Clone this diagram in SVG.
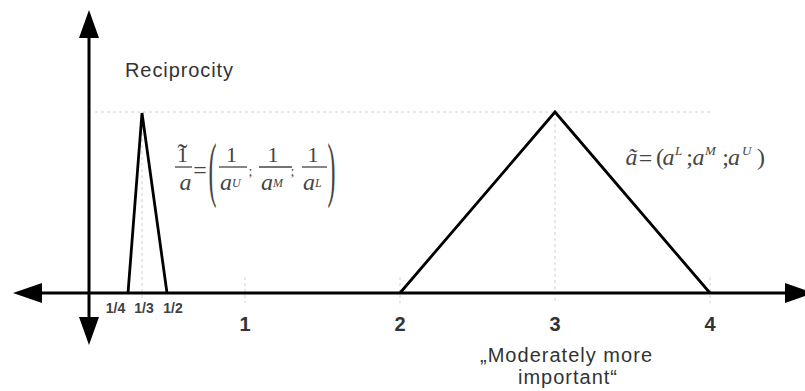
<svg xmlns="http://www.w3.org/2000/svg" width="805" height="391" viewBox="0 0 805 391">
<style>
.axis{stroke:#000;stroke-width:3;fill:none}
.head{fill:#000}
.tri{stroke:#000;stroke-width:2.8;fill:none;stroke-linejoin:miter}
.guide{stroke:#d0d0d0;stroke-width:1;stroke-dasharray:3 3;fill:none}
.small{font-family:"Liberation Sans",Arial,sans-serif;font-size:14px;font-weight:bold;fill:#404040;text-anchor:middle}
.num{font-family:"Liberation Sans",Arial,sans-serif;font-size:20px;font-weight:bold;fill:#333;text-anchor:middle}
.lbl{font-family:"Liberation Sans",Arial,sans-serif;font-size:20px;fill:#333}
.m{font-family:"Liberation Serif","Times New Roman",serif;font-size:22px;fill:#454545}
.mi{font-family:"Liberation Serif","Times New Roman",serif;font-size:24px;font-style:italic;fill:#454545}
.sup{font-family:"Liberation Serif","Times New Roman",serif;font-size:12px;font-style:italic;fill:#454545}
.c{text-anchor:middle}
.bar{stroke:#454545;stroke-width:1.3}
</style>
<rect width="805" height="391" fill="#fff"/>
<g id="guides">
<line class="guide" x1="95" y1="112" x2="712" y2="112"/>
<line class="guide" x1="142" y1="115" x2="142" y2="300"/>
<line class="guide" x1="555" y1="112" x2="555" y2="303"/>
<line class="guide" x1="245" y1="277" x2="245" y2="303"/>
<line class="guide" x1="400" y1="277" x2="400" y2="303"/>
<line class="guide" x1="710" y1="277" x2="710" y2="303"/>
</g>
<g id="axes">
<line class="axis" x1="30" y1="293" x2="795" y2="293"/>
<polygon class="head" points="13,293 42,283 42,303"/>
<polygon class="head" points="785,283 814,293 785,303"/>
<line class="axis" x1="89" y1="30" x2="89" y2="330"/>
<polygon class="head" points="89,10 79,38 99,38"/>
<polygon class="head" points="89,345 79,317 99,317"/>
</g>
<g id="reciprocal-triangle">
<polyline class="tri" points="128,293 142,113 167,293"/>
</g>
<g id="triangle">
<polyline class="tri" points="400,293 555,112 710,293"/>
</g>
<g id="tick-labels">
<text class="small" x="115.5" y="313">1/4</text>
<text class="small" x="144" y="313">1/3</text>
<text class="small" x="173" y="313">1/2</text>
<text class="num" x="245" y="331">1</text>
<text class="num" x="400" y="331">2</text>
<text class="num" x="555" y="331">3</text>
<text class="num" x="710" y="331">4</text>
</g>
<g id="labels">
<text class="lbl" x="125" y="77" textLength="108" font-size="21">Reciprocity</text>
<text class="lbl" x="480" y="362" textLength="172">„Moderately more</text>
<text class="lbl" x="518" y="384" textLength="99">important“</text>
</g>
<g id="formula-reciprocal">
<text class="m c" x="182.5" y="162">1<tspan x="182.5" y="164" style="font-size:30px">˜</tspan></text>
<line class="bar" x1="175" y1="167" x2="192" y2="167"/>
<text class="mi c" x="185.5" y="190">a</text>
<text class="m c" x="200" y="178" style="font-size:24px">=</text>
<text class="m" transform="translate(208.5,193) scale(1,3)" style="font-size:24px">(</text>
<text class="m c" x="231.5" y="162">1</text>
<line class="bar" x1="219" y1="167" x2="247" y2="167"/>
<text class="mi c" x="226" y="190">a</text>
<text class="sup" x="232" y="187">U</text>
<text class="m c" x="250.5" y="176" style="font-size:14px">;</text>
<text class="m c" x="273" y="162">1</text>
<line class="bar" x1="259" y1="167" x2="292" y2="167"/>
<text class="mi c" x="267" y="190">a</text>
<text class="sup" x="273" y="187">M</text>
<text class="m c" x="292.5" y="176" style="font-size:14px">;</text>
<text class="m c" x="313" y="162">1</text>
<line class="bar" x1="302" y1="167" x2="327" y2="167"/>
<text class="mi c" x="309" y="190">a</text>
<text class="sup" x="315" y="187">L</text>
<text class="m" transform="translate(327.5,193) scale(1,3)" style="font-size:24px">)</text>
</g>
<g id="formula">
<text class="mi c" x="631.5" y="165">ã</text>
<text class="m c" x="645.5" y="166" style="font-size:24px">=</text>
<text class="m" x="656" y="165" style="font-size:24px">(</text>
<text class="mi c" x="668.5" y="165">a</text>
<text class="sup" x="675" y="155" style="font-size:13px">L</text>
<text class="m c" x="689.5" y="165" style="font-size:24px">;</text>
<text class="mi c" x="698.5" y="165">a</text>
<text class="sup" x="705" y="155" style="font-size:13px">M</text>
<text class="m c" x="725.5" y="165" style="font-size:24px">;</text>
<text class="mi c" x="734" y="165">a</text>
<text class="sup" x="742" y="155" style="font-size:13px">U</text>
<text class="m" x="757" y="165" style="font-size:24px">)</text>
</g>
</svg>
